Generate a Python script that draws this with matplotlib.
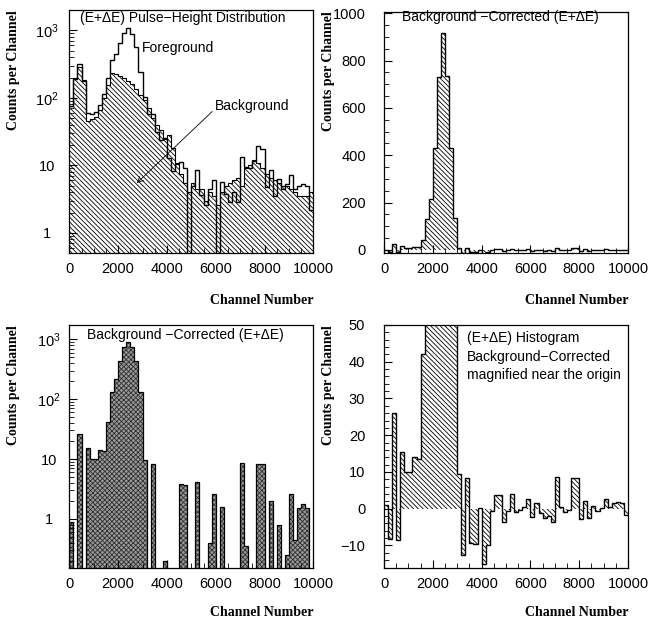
import numpy as np
import matplotlib.pyplot as plt
from matplotlib.ticker import FixedLocator, MultipleLocator, LogLocator, FuncFormatter, NullFormatter

# 60 equal bins over channels 0..10000
edges = np.linspace(0, 10000, 61)

foreground = [75.9, 191.8, 316, 176.5, 60.5, 58, 62, 79, 113.5, 197,
              366, 439, 642, 925, 1095, 895, 565, 244, 101.5, 57.3,
              58.4, 30.8, 23.5, 25.2, 13, 8.2, 10.5, 11.3, 9.2, 0.3,
              5.0, 8.6, 3.7, 2.6, 4.4, 6.1, 0.3, 5.6, 3.8, 2.9,
              4.0, 2.9, 13.5, 9.35, 9.2, 11.7, 19.3, 17.3, 4.8, 8.5,
              3.5, 6.3, 4.5, 5.25, 7.1, 4.45, 5.0, 5.3, 5.0, 2.2]

background = [75, 200, 290, 185, 45, 48, 52, 65, 100, 155,
              235, 225, 210, 195, 180, 160, 135, 110, 92, 70,
              50, 40, 33, 25, 28, 18, 11, 7.5, 5.5, 4.0,
              5.5, 4.5, 4.5, 3.0, 4.0, 3.5, 2.6, 4.0, 5.0, 5.5,
              6.0, 6.5, 5.0, 9.0, 10, 12, 11, 9.0, 7.5, 6.5,
              6.0, 5.5, 5.0, 5.0, 4.5, 4.0, 3.5, 3.5, 3.5, 4.0]

fg = np.array(foreground)
bg = np.array(background)
corrected = fg - bg

plt.rcParams['font.family'] = 'Liberation Sans'
plt.rcParams['hatch.linewidth'] = 0.6
plt.rcParams['axes.linewidth'] = 0.9

HATCH = '\\' * 7
LABEL_FONT = dict(fontfamily='Liberation Serif', fontweight='bold', fontsize=10)
NOTE_SIZE = 10


def log_label(v, pos):
    if v >= 100:
        return r'$\mathdefault{10^{%d}}$' % round(np.log10(v))
    return '%d' % v


def setup(ax, xlab_y, ypad, yha='right'):
    ax.set_xlim(0, 10000)
    ax.xaxis.set_major_locator(MultipleLocator(2000))
    ax.xaxis.set_minor_locator(MultipleLocator(500))
    ax.tick_params(which='both', direction='in', top=False, right=False, labelsize=10.5)
    ax.tick_params(which='major', length=6, width=0.8)
    ax.tick_params(which='minor', length=3.5, width=0.6)
    ax.tick_params(axis='x', pad=6)
    ax.tick_params(axis='y', pad=ypad)
    for lab in ax.get_yticklabels():
        lab.set_horizontalalignment(yha)
    ax.set_xlabel('Channel Number', loc='right', **LABEL_FONT)
    ax.xaxis.set_label_coords(1.0, xlab_y)
    ax.set_ylabel('Counts per Channel', loc='top', **LABEL_FONT)
    ax.yaxis.set_label_coords(-0.202, 1.0)


def log_axis(ax, lo, hi):
    ax.set_yscale('log')
    ax.set_ylim(lo, hi)
    ax.yaxis.set_major_locator(FixedLocator([1, 10, 100, 1000]))
    ax.yaxis.set_major_formatter(FuncFormatter(log_label))
    ax.yaxis.set_minor_locator(LogLocator(base=10, subs=np.arange(2, 10)))
    ax.yaxis.set_minor_formatter(NullFormatter())


def hatched(ax, values, baseline, lw=1.0):
    # hatched fill between baseline and the histogram, then the step outline
    ax.stairs(values, edges, baseline=baseline, fill=True, facecolor='none',
              edgecolor='black', linewidth=0, hatch=HATCH)
    ax.stairs(values, edges, baseline=None, color='black', linewidth=lw)


fig = plt.figure(figsize=(6.51, 6.24), dpi=100)

# --- foreground and background spectra, log scale
ax1 = fig.add_axes([0.1065, 0.5941, 0.3748, 0.3899])
log_axis(ax1, 0.5, 2000)
hatched(ax1, bg, 1e-3, lw=0.8)
ax1.stairs(fg, edges, baseline=None, color='black', linewidth=1.0)
setup(ax1, -0.167, 16, yha='center')
ax1.text(0.044, 0.967, '(E+\u0394E) Pulse\u2212Height Distribution',
         transform=ax1.transAxes, va='center', fontsize=NOTE_SIZE)
ax1.text(0.298, 0.844, 'Foreground', transform=ax1.transAxes, va='center', fontsize=NOTE_SIZE)
ax1.annotate('Background', xy=(0.277, 0.289), xycoords='axes fraction',
             xytext=(0.597, 0.605), textcoords='axes fraction', va='center',
             fontsize=NOTE_SIZE,
             arrowprops=dict(arrowstyle='->', lw=0.6, color='black',
                             shrinkA=0, shrinkB=0,
                             relpos=(0.0, 0.3)))

# --- background-corrected, linear scale
ax2 = fig.add_axes([0.5899, 0.5941, 0.3748, 0.3872])
ax2.set_ylim(-14, 1007)
ax2.yaxis.set_major_locator(MultipleLocator(200))
ax2.yaxis.set_minor_locator(MultipleLocator(50))
hatched(ax2, corrected, 0)
setup(ax2, -0.167, 13)
ax2.text(0.074, 0.978, 'Background \u2212Corrected (E+\u0394E)',
         transform=ax2.transAxes, va='center', fontsize=NOTE_SIZE)

# --- background-corrected, log scale (positive bins only)
ax3 = fig.add_axes([0.1065, 0.0893, 0.3748, 0.3899])
log_axis(ax3, 0.15, 1730)
positive = np.where(corrected > 0, corrected, 1e-3)
ax3.stairs(positive, edges, baseline=1e-3, fill=True, facecolor='#9a9a9a',
           edgecolor='#303030', linewidth=0, hatch='x' * 7)
ax3.stairs(positive, edges, baseline=1e-3, color='black', linewidth=0.9)
setup(ax3, -0.155, 14.5, yha='center')
ax3.text(0.073, 0.959, 'Background \u2212Corrected (E+\u0394E)',
         transform=ax3.transAxes, va='center', fontsize=NOTE_SIZE)

# --- background-corrected, magnified near zero
ax4 = fig.add_axes([0.5899, 0.0893, 0.3748, 0.3899])
ax4.set_ylim(-16.2, 50)
ax4.yaxis.set_major_locator(MultipleLocator(10))
ax4.yaxis.set_minor_locator(MultipleLocator(2))
hatched(ax4, corrected, 0)
setup(ax4, -0.155, 13.5)
for yy, line in zip([0.947, 0.868, 0.795],
                    ['(E+\u0394E) Histogram', 'Background\u2212Corrected',
                     'magnified near the origin']):
    ax4.text(0.340, yy, line, transform=ax4.transAxes, va='center', fontsize=NOTE_SIZE)

fig.savefig('out.png', dpi=100)
